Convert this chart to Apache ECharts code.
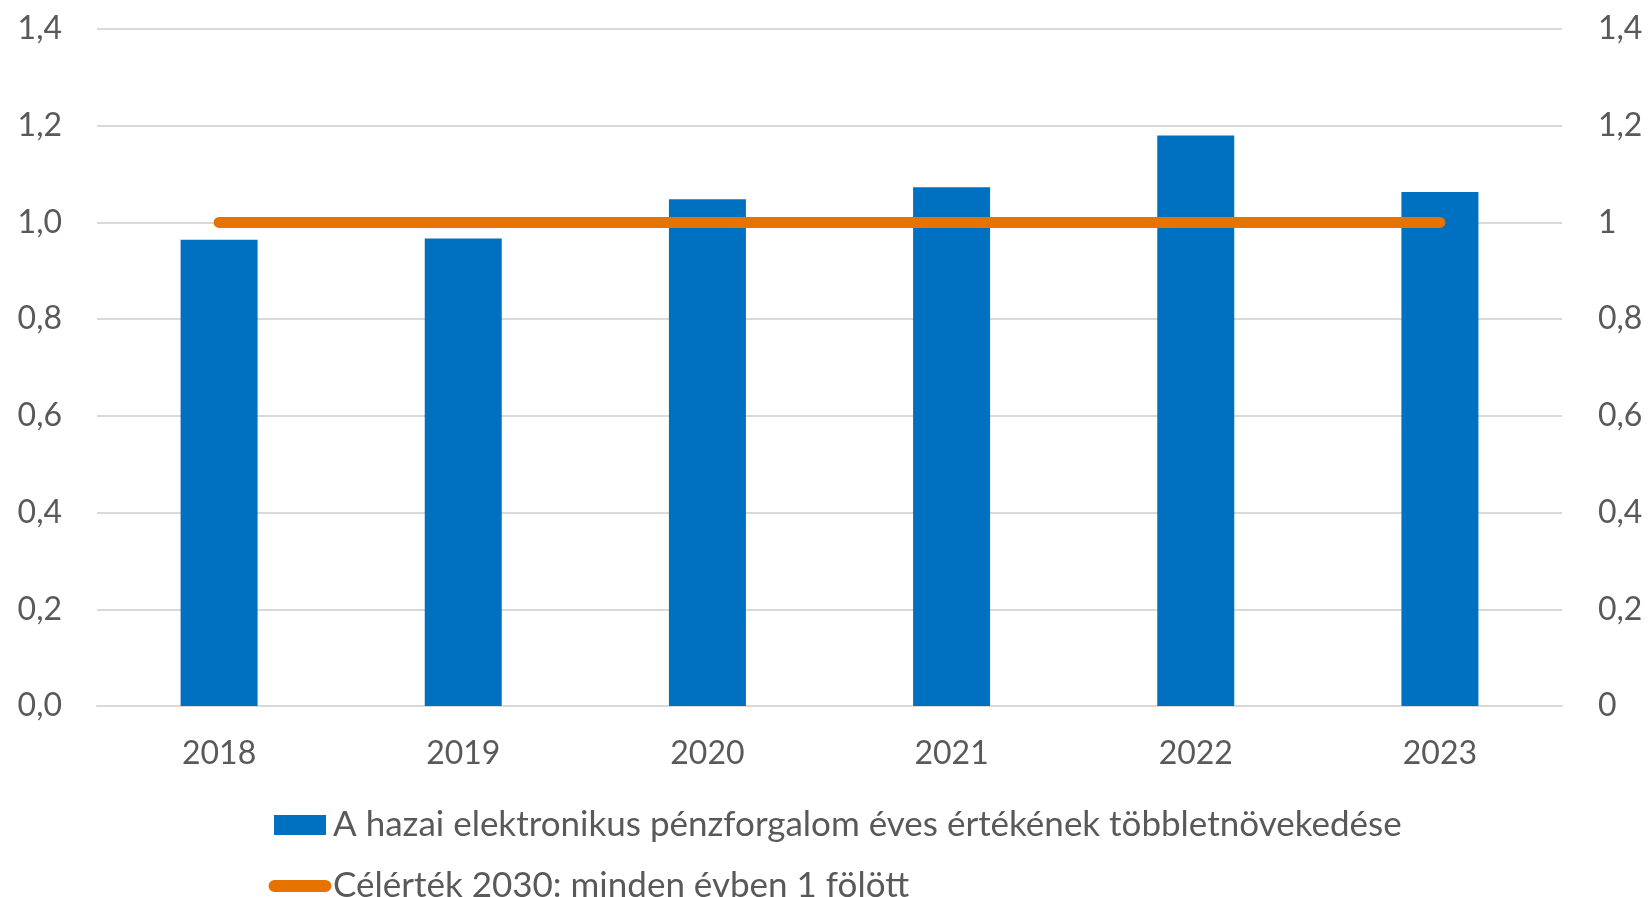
<!DOCTYPE html>
<html>
<head>
<meta charset="utf-8">
<script src="https://cdn.jsdelivr.net/npm/echarts@6/dist/echarts.min.js"></script>
<style>
  html, body { margin: 0; padding: 0; background: #fff; }
  #chart { width: 1650px; height: 897px; }
</style>
</head>
<body>
<div id="chart"></div>
<script>
const years = ['2018', '2019', '2020', '2021', '2022', '2023'];
const growth = [0.964, 0.967, 1.048, 1.073, 1.180, 1.063];
const target = [1, 1, 1, 1, 1, 1];
const yTicks = { min: 0, max: 1.4, interval: 0.2 };

const barName = 'A hazai elektronikus pénzforgalom éves értékének többletnövekedése';
const lineName = 'Célérték 2030: minden évben 1 fölött';

const textColor = '#595959';
const fontFamily = 'Lato, "Open Sans", sans-serif';
const blue = '#0070C0';
const orange = '#E67300';

// left axis keeps one decimal, right axis drops trailing zeros
const leftFmt = v => v.toFixed(1).replace('.', ',');
const rightFmt = v => String(Number(v.toFixed(1))).replace('.', ',');

// legend icons in a 64x21 box: 52x20 swatch, 63x12 rounded stroke
// (tiny corner dots keep the box size so both icons scale the same)
const boxIcon = 'path://M6,0.5 H58 V20.5 H6 Z M0,0 H0.01 V0.01 Z M64,21 H63.99 V20.99 Z';
const lineIcon = 'path://M6.5,4.5 H57.5 A6,6 0 0 1 57.5,16.5 H6.5 A6,6 0 0 1 6.5,4.5 Z M0,0 H0.01 V0.01 Z M64,21 H63.99 V20.99 Z';

const chart = echarts.init(document.getElementById('chart'));

chart.setOption({
  animation: false,
  textStyle: { fontFamily: fontFamily },
  grid: { left: 97, right: 88, top: 29, bottom: 191 },
  legend: {
    orient: 'vertical',
    left: 268,
    top: 807,
    height: 150,
    padding: 0,
    itemWidth: 64,
    itemHeight: 21,
    itemGap: 25,
    textStyle: { color: textColor, fontSize: 35, lineHeight: 36, fontFamily: fontFamily, padding: [0, 0, 0, -4] },
    data: [
      { name: barName, icon: boxIcon },
      { name: lineName, icon: lineIcon }
    ]
  },
  xAxis: {
    type: 'category',
    data: years,
    axisLine: { lineStyle: { color: '#D9D9D9', width: 2 } },
    axisTick: { show: false },
    axisLabel: { color: textColor, fontSize: 32, margin: 32 }
  },
  yAxis: [
    {
      type: 'value',
      min: yTicks.min,
      max: yTicks.max,
      interval: yTicks.interval,
      axisLabel: { color: textColor, fontSize: 32, margin: 35, formatter: leftFmt },
      splitLine: { lineStyle: { color: '#D9D9D9', width: 2 } }
    },
    {
      type: 'value',
      min: yTicks.min,
      max: yTicks.max,
      interval: yTicks.interval,
      axisLabel: { color: textColor, fontSize: 32, margin: 36, formatter: rightFmt },
      splitLine: { show: false }
    }
  ],
  series: [
    {
      name: barName,
      type: 'bar',
      data: growth,
      barWidth: 77,
      itemStyle: { color: blue }
    },
    {
      name: lineName,
      type: 'line',
      yAxisIndex: 1,
      data: target,
      symbol: 'none',
      lineStyle: { color: orange, width: 11, cap: 'round' },
      itemStyle: { color: orange }
    }
  ]
});
</script>
</body>
</html>
